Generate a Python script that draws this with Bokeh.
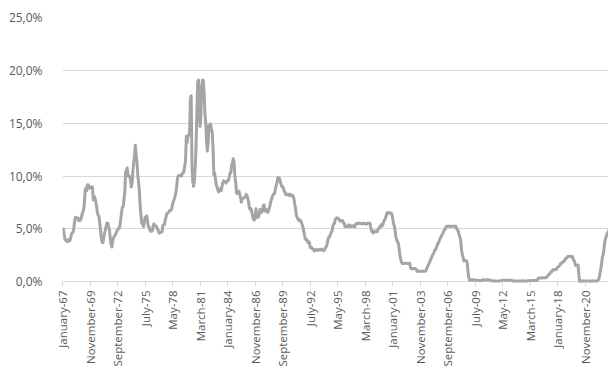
import numpy as np
from bokeh.plotting import figure
from bokeh.models import ColumnDataSource, FixedTicker, Range1d
from bokeh.embed import file_html
from bokeh.resources import INLINE

# Effective federal funds rate, monthly, percent (January 1967 onward)
rates_1967_1969 = [
    4.94, 5.00, 4.53, 4.05, 3.94, 3.98, 3.79, 3.90, 3.99, 3.88, 4.13, 4.51,
    4.61, 4.71, 5.05, 5.76, 6.11, 6.07, 6.02, 6.03, 5.78, 5.91, 5.82, 6.02,
    6.30, 6.61, 6.79, 7.41, 8.67, 8.90, 8.61, 9.19, 9.15, 9.00, 8.85, 8.97,
]
rates_1970s = [
    8.98, 8.98, 7.76, 8.10, 7.95, 7.61, 7.21, 6.61, 6.29, 6.20, 5.60, 4.90,
    4.14, 3.72, 3.71, 4.16, 4.63, 4.91, 5.31, 5.56, 5.55, 5.20, 4.91, 4.14,
    3.50, 3.29, 3.83, 4.17, 4.27, 4.46, 4.55, 4.80, 4.87, 5.04, 5.06, 5.33,
    5.94, 6.58, 7.09, 7.12, 7.84, 8.49, 10.40, 10.50, 10.78, 10.01, 10.03, 9.95,
    9.65, 8.97, 9.35, 10.51, 11.31, 11.93, 12.92, 12.01, 11.34, 10.06, 9.45, 8.53,
    7.13, 6.24, 5.54, 5.49, 5.22, 5.55, 6.10, 6.14, 6.24, 5.82, 5.22, 5.20,
    4.87, 4.77, 4.84, 4.82, 5.29, 5.48, 5.31, 5.29, 5.25, 5.02, 4.95, 4.65,
    4.61, 4.68, 4.69, 4.73, 5.35, 5.39, 5.42, 5.90, 6.14, 6.47, 6.51, 6.56,
    6.70, 6.78, 6.79, 6.89, 7.36, 7.60, 7.81, 8.04, 8.45, 8.96, 9.76, 10.03,
    10.07, 10.06, 10.09, 10.01, 10.24, 10.29, 10.47, 10.94, 11.43, 13.77, 13.18, 13.78,
]
rates_1980s = [
    13.82, 14.13, 17.19, 17.61, 10.98, 9.47, 9.03, 9.61, 10.87, 12.81, 15.85, 18.90,
    19.08, 15.93, 14.70, 15.72, 18.52, 19.10, 19.04, 17.82, 15.87, 15.08, 13.31, 12.37,
    13.22, 14.78, 14.68, 14.94, 14.45, 14.15, 12.59, 10.12, 10.31, 9.71, 9.20, 8.95,
    8.68, 8.51, 8.77, 8.80, 8.63, 8.98, 9.37, 9.56, 9.45, 9.48, 9.34, 9.47,
    9.56, 9.59, 9.91, 10.29, 10.32, 11.06, 11.23, 11.64, 11.30, 9.99, 9.43, 8.38,
    8.35, 8.50, 8.58, 8.27, 7.97, 7.53, 7.88, 7.90, 7.92, 7.99, 8.05, 8.27,
    8.14, 7.86, 7.48, 6.99, 6.85, 6.92, 6.56, 6.17, 5.89, 5.85, 6.04, 6.91,
    6.43, 6.10, 6.13, 6.37, 6.85, 6.73, 6.58, 6.73, 7.22, 7.29, 6.69, 6.77,
    6.83, 6.58, 6.58, 6.87, 7.09, 7.51, 7.75, 8.01, 8.19, 8.30, 8.35, 8.76,
    9.12, 9.36, 9.85, 9.84, 9.81, 9.53, 9.24, 8.99, 9.02, 8.84, 8.55, 8.45,
]
rates_1990s = [
    8.23, 8.24, 8.28, 8.26, 8.18, 8.29, 8.15, 8.13, 8.20, 8.11, 7.81, 7.31,
    6.91, 6.25, 6.12, 5.91, 5.78, 5.90, 5.82, 5.66, 5.45, 5.21, 4.81, 4.43,
    4.03, 4.06, 3.98, 3.73, 3.82, 3.76, 3.25, 3.30, 3.22, 3.10, 3.09, 2.92,
    3.02, 3.03, 3.07, 2.96, 3.00, 3.04, 3.06, 3.03, 3.09, 2.99, 3.02, 2.96,
    3.05, 3.25, 3.34, 3.56, 4.01, 4.25, 4.26, 4.47, 4.73, 4.76, 5.29, 5.45,
    5.53, 5.92, 5.98, 6.05, 6.01, 6.00, 5.85, 5.74, 5.80, 5.76, 5.80, 5.60,
    5.56, 5.22, 5.31, 5.22, 5.24, 5.27, 5.40, 5.22, 5.30, 5.24, 5.31, 5.29,
    5.25, 5.19, 5.39, 5.51, 5.50, 5.56, 5.52, 5.54, 5.54, 5.50, 5.52, 5.50,
    5.56, 5.51, 5.49, 5.45, 5.49, 5.56, 5.54, 5.55, 5.51, 5.07, 4.83, 4.68,
    4.63, 4.76, 4.81, 4.74, 4.74, 4.76, 4.99, 5.07, 5.22, 5.20, 5.42, 5.30,
]
rates_2000s = [
    5.45, 5.73, 5.85, 6.02, 6.27, 6.53, 6.54, 6.50, 6.52, 6.51, 6.51, 6.40,
    5.98, 5.49, 5.31, 4.80, 4.21, 3.97, 3.77, 3.65, 3.07, 2.49, 2.09, 1.82,
    1.73, 1.74, 1.73, 1.75, 1.75, 1.75, 1.73, 1.74, 1.75, 1.75, 1.34, 1.24,
    1.24, 1.26, 1.25, 1.26, 1.26, 1.22, 1.01, 1.03, 1.01, 1.01, 1.00, 0.98,
    1.00, 1.01, 1.00, 1.00, 1.00, 1.03, 1.26, 1.43, 1.61, 1.76, 1.93, 2.16,
    2.28, 2.50, 2.63, 2.79, 3.00, 3.04, 3.26, 3.50, 3.62, 3.78, 4.00, 4.16,
    4.29, 4.49, 4.59, 4.79, 4.94, 4.99, 5.24, 5.25, 5.25, 5.25, 5.25, 5.24,
    5.25, 5.26, 5.26, 5.25, 5.25, 5.25, 5.26, 5.02, 4.94, 4.76, 4.49, 4.24,
    3.94, 2.98, 2.61, 2.28, 1.98, 2.00, 2.01, 2.00, 1.81, 0.97, 0.39, 0.16,
    0.15, 0.22, 0.18, 0.15, 0.18, 0.21, 0.16, 0.16, 0.15, 0.12, 0.12, 0.12,
]
rates_2010s = [
    0.11, 0.13, 0.16, 0.20, 0.20, 0.18, 0.18, 0.19, 0.19, 0.19, 0.19, 0.18,
    0.17, 0.16, 0.14, 0.10, 0.09, 0.09, 0.07, 0.10, 0.08, 0.07, 0.08, 0.07,
    0.08, 0.10, 0.13, 0.14, 0.16, 0.16, 0.16, 0.13, 0.14, 0.16, 0.16, 0.16,
    0.14, 0.15, 0.14, 0.15, 0.11, 0.09, 0.09, 0.08, 0.08, 0.09, 0.08, 0.09,
    0.07, 0.07, 0.08, 0.09, 0.09, 0.10, 0.09, 0.09, 0.09, 0.09, 0.09, 0.12,
    0.11, 0.11, 0.11, 0.12, 0.12, 0.13, 0.13, 0.14, 0.14, 0.12, 0.12, 0.24,
    0.34, 0.38, 0.36, 0.37, 0.37, 0.38, 0.39, 0.40, 0.40, 0.40, 0.41, 0.54,
    0.65, 0.66, 0.79, 0.90, 0.91, 1.04, 1.15, 1.16, 1.15, 1.15, 1.16, 1.30,
    1.41, 1.42, 1.51, 1.69, 1.70, 1.82, 1.91, 1.91, 1.95, 2.19, 2.20, 2.27,
    2.40, 2.40, 2.41, 2.42, 2.39, 2.38, 2.40, 2.13, 2.04, 1.83, 1.55, 1.55,
]
rates_2020s = [
    1.55, 1.58, 0.65, 0.05, 0.05, 0.08, 0.09, 0.10, 0.09, 0.09, 0.09, 0.09,
    0.09, 0.08, 0.07, 0.07, 0.06, 0.08, 0.10, 0.09, 0.08, 0.08, 0.08, 0.08,
    0.08, 0.08, 0.20, 0.33, 0.77, 1.21, 1.68, 2.33, 2.56, 3.08, 3.78, 4.10,
    4.33, 4.57, 4.65, 4.83, 5.06,
]

# Category tick labels, one every 34 months starting January 1967
tick_labels = [
    "January-67", "November-69", "September-72", "July-75", "May-78",
    "March-81", "January-84", "November-86", "September-89", "July-92",
    "May-95", "March-98", "January-01", "November-03", "September-06",
    "July-09", "May-12", "March-15", "January-18", "November-20",
]
tick_step = 34
y_ticks = [0, 5, 10, 15, 20, 25]
y_labels = ["0,0%", "5,0%", "10,0%", "15,0%", "20,0%", "25,0%"]

rates = (rates_1967_1969 + rates_1970s + rates_1980s + rates_1990s
         + rates_2000s + rates_2010s + rates_2020s)
months = np.arange(len(rates))
source = ColumnDataSource(data=dict(month=months, rate=rates))

label_color = "#595959"
grid_color = "#d9d9d9"
font = "Open Sans"

p = figure(
    width=608, height=374,
    output_backend="svg", toolbar_location=None,
    x_range=Range1d(0, 674.6), y_range=Range1d(-0.25, 25),
    min_border_left=62, min_border_right=0,
    min_border_top=17, min_border_bottom=90,
)
p.outline_line_color = None
p.background_fill_color = "white"
p.border_fill_color = "white"

p.line("month", "rate", source=source, line_color="#a5a5a5",
       line_width=3, line_join="round")

# x axis: rotated period labels; the zero gridline acts as the axis line
x_tick_pos = [i * tick_step for i in range(len(tick_labels))]
p.xaxis.ticker = FixedTicker(ticks=x_tick_pos)
p.xaxis.major_label_overrides = {pos: lab for pos, lab in zip(x_tick_pos, tick_labels)}
p.xaxis.major_label_orientation = np.pi / 2
p.xaxis.axis_line_color = None
p.xaxis.major_tick_line_color = grid_color
p.xaxis.major_tick_in = 3
p.xaxis.major_tick_out = 2
p.xaxis.minor_tick_line_color = None
p.xaxis.major_label_standoff = 4
p.xaxis.major_label_text_color = label_color
p.xaxis.major_label_text_font = font
p.xaxis.major_label_text_font_size = "11.5px"
p.xgrid.grid_line_color = None

# y axis: percentage labels with decimal comma
p.yaxis.ticker = FixedTicker(ticks=y_ticks)
p.yaxis.major_label_overrides = {t: lab for t, lab in zip(y_ticks, y_labels)}
p.yaxis.axis_line_color = None
p.yaxis.major_tick_line_color = None
p.yaxis.minor_tick_line_color = None
p.yaxis.major_label_standoff = 14
p.yaxis.major_label_text_color = label_color
p.yaxis.major_label_text_font = font
p.yaxis.major_label_text_font_size = "12px"
p.ygrid.ticker = FixedTicker(ticks=y_ticks)
p.ygrid.grid_line_color = grid_color
p.ygrid.grid_line_width = 1

open("out.html", "w").write(file_html(p, INLINE))
